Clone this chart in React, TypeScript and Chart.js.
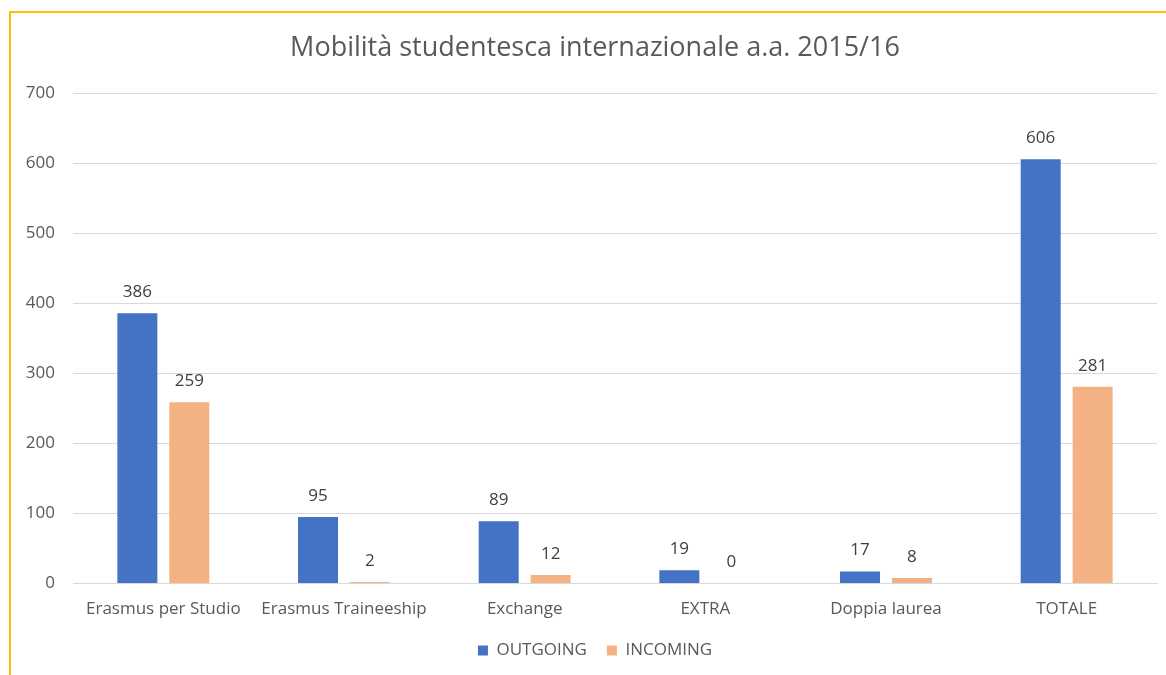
import React, { useEffect, useRef } from "react";
import { Chart, registerables } from "chart.js";

Chart.register(...registerables);

const titleText = "Mobilità studentesca internazionale a.a. 2015/16";
const categories = [
  "Erasmus per Studio",
  "Erasmus Traineeship",
  "Exchange",
  "EXTRA",
  "Doppia laurea",
  "TOTALE",
];
const outgoing = [386, 95, 89, 19, 17, 606];
const incoming = [259, 2, 12, 0, 8, 281];
const seriesNames = ["OUTGOING", "INCOMING"];
const yMin = 0;
const yMax = 700;
const yStep = 100;

const FONT = "'Open Sans', 'Noto Sans', sans-serif";

const valueLabels = {
  id: "valueLabels",
  afterDatasetsDraw(chart: any) {
    const ctx = chart.ctx;
    ctx.save();
    ctx.font = `17px ${FONT}`;
    ctx.fillStyle = "#404040";
    ctx.textAlign = "center";
    ctx.textBaseline = "middle";
    chart.data.datasets.forEach((ds: any, i: number) => {
      chart.getDatasetMeta(i).data.forEach((bar: any, j: number) => {
        ctx.fillText(String(ds.data[j]), bar.x, bar.y - 21);
      });
    });
    ctx.restore();
  },
};

export default function App() {
  const canvasRef = useRef<HTMLCanvasElement | null>(null);

  useEffect(() => {
    if (!canvasRef.current) return;
    const chart = new Chart(canvasRef.current, {
      type: "bar",
      data: {
        labels: categories,
        datasets: [
          {
            label: seriesNames[0],
            data: outgoing,
            backgroundColor: "#4472C4",
            borderWidth: 0,
            categoryPercentage: 0.575,
            barPercentage: 0.77,
          },
          {
            label: seriesNames[1],
            data: incoming,
            backgroundColor: "#F4B183",
            borderWidth: 0,
            categoryPercentage: 0.575,
            barPercentage: 0.77,
          },
        ],
      },
      options: {
        responsive: false,
        animation: false,
        devicePixelRatio: 1,
        layout: { padding: { left: 0, right: 0, top: 19, bottom: 34 } },
        plugins: {
          title: {
            display: true,
            text: titleText,
            color: "#595959",
            font: { family: FONT, size: 27, weight: "normal" },
            padding: { top: 0, bottom: 29 },
          },
          legend: {
            position: "bottom",
            labels: {
              boxWidth: 10,
              boxHeight: 10,
              padding: 20,
              color: "#595959",
              font: { family: FONT, size: 17 },
            },
          },
          tooltip: { enabled: false },
        },
        scales: {
          x: {
            grid: { display: false, drawTicks: false },
            border: { display: true, color: "#D9D9D9", width: 1 },
            ticks: {
              color: "#595959",
              font: { family: FONT, size: 17 },
              padding: 15,
              maxRotation: 0,
              autoSkip: false,
            },
            afterFit: (scale: any) => {
              scale.height = 38.5;
            },
          },
          y: {
            min: yMin,
            max: yMax,
            ticks: {
              stepSize: yStep,
              color: "#595959",
              font: { family: FONT, size: 17 },
              padding: 18,
            },
            grid: { color: "#D9D9D9", drawTicks: false },
            border: { display: false },
            afterFit: (scale: any) => {
              scale.width = 62;
            },
          },
          spacer: {
            type: "linear",
            position: "right",
            display: true,
            grid: { display: false, drawTicks: false },
            border: { display: false },
            ticks: { display: false },
            afterFit: (scale: any) => {
              scale.width = 22;
            },
          },
        },
      },
      plugins: [valueLabels],
    });
    return () => chart.destroy();
  }, []);

  return (
    <div
      style={{
        position: "fixed",
        left: 0,
        top: 0,
        width: 1166,
        height: 675,
        overflow: "hidden",
        background: "#fff",
      }}
    >
      <div
        style={{
          position: "absolute",
          left: 9,
          top: 11,
          width: 1170,
          height: 700,
          borderLeft: "2px solid #FFC000",
          borderTop: "2px solid #FFC000",
          background: "#fff",
        }}
      >
        <canvas
          ref={canvasRef}
          width={1168}
          height={690}
          style={{ display: "block", width: 1168, height: 690 }}
        />
      </div>
    </div>
  );
}
